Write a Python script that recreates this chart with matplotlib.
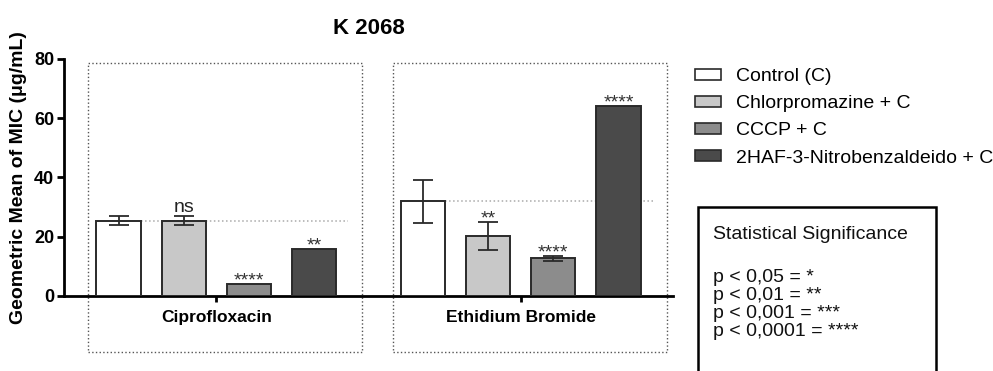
import matplotlib
matplotlib.use("Agg")
import matplotlib.pyplot as plt
from matplotlib.patches import Patch, Rectangle
import numpy as np

plt.rcParams['font.family'] = ['Liberation Sans', 'DejaVu Sans']

# data
groups = ["Ciprofloxacin", "Ethidium Bromide"]
treatments = ["Control (C)", "Chlorpromazine + C", "CCCP + C",
              "2HAF-3-Nitrobenzaldeido + C"]
cipro_mean = [25.4, 25.4, 4.0, 16.0]
cipro_err = [1.6, 1.6, 0.0, 0.0]
etbr_mean = [32.0, 20.2, 12.7, 64.0]
etbr_err = [7.3, 4.8, 0.8, 0.0]
cipro_sig = ["", "ns", "****", "**"]
etbr_sig = ["", "**", "****", "****"]
sig_legend = ["p < 0,05 = *", "p < 0,01 = **", "p < 0,001 = ***",
              "p < 0,0001 = ****"]

colors = ["#ffffff", "#c8c8c8", "#8c8c8c", "#4a4a4a"]
edge = "#2a2a2a"

fig = plt.figure(figsize=(9.93, 3.71), dpi=100)
ax = fig.add_axes([0.0645, 0.2022, 0.6132, 0.6388])

step = 0.214
width = 0.145
offsets = (np.arange(4) - 1.5) * step

for g, (means, errs, sigs) in enumerate([(cipro_mean, cipro_err, cipro_sig),
                                         (etbr_mean, etbr_err, etbr_sig)]):
    xs = g + offsets
    for i in range(4):
        ax.bar(xs[i], means[i], width, color=colors[i], edgecolor=edge,
               linewidth=1.4, zorder=3)
        if errs[i] > 0:
            ax.errorbar(xs[i], means[i], yerr=errs[i], fmt='none',
                        ecolor=edge, elinewidth=1.3, capsize=7.5,
                        capthick=1.3, zorder=4)
        top = means[i] + errs[i]
        if sigs[i] == "ns":
            ax.annotate(sigs[i], (xs[i], top), xytext=(0, 3),
                        textcoords='offset points', ha='center',
                        va='baseline', fontsize=14, color='#222222')
        elif sigs[i]:
            ax.annotate(sigs[i], (xs[i], top), xytext=(0, -1),
                        textcoords='offset points', ha='center',
                        va='baseline', fontsize=14, color='#333333')
    # dotted reference line at the control level
    ax.plot([g + offsets[0] + width / 2, g + 0.433], [means[0], means[0]],
            linestyle=':', color='#aaaaaa', linewidth=1.1, zorder=2)
    # dotted group frame
    ax.add_patch(Rectangle((g - 0.421, -18.9), 0.901, 97.6, fill=False,
                           linestyle=':', edgecolor='#555555', linewidth=1.0,
                           clip_on=False, zorder=1))

ax.set_xlim(-0.5, 1.5)
ax.set_ylim(0, 80)
ax.set_yticks([0, 20, 40, 60, 80])
ax.set_xticks([0, 1])
ax.set_xticklabels(groups, fontsize=12.5, fontweight='bold')
for lab in ax.get_yticklabels():
    lab.set_fontsize(13)
    lab.set_fontweight('bold')
ax.tick_params(axis='y', direction='out', length=5, width=2, pad=2)
ax.tick_params(axis='x', direction='out', length=4, width=2, pad=6)
ax.spines['top'].set_visible(False)
ax.spines['right'].set_visible(False)
ax.spines['left'].set_linewidth(2)
ax.spines['bottom'].set_linewidth(2)
ax.set_ylabel("Geometric Mean of MIC (μg/mL)", fontsize=14,
              fontweight='bold', labelpad=5)
ax.set_title("K 2068", fontsize=16, fontweight='bold', pad=18)

handles = [Patch(facecolor=c, edgecolor=edge, linewidth=1.2) for c in colors]
fig.legend(handles, treatments, loc='upper left',
           bbox_to_anchor=(0.700, 0.816), frameon=False, fontsize=14,
           handlelength=1.35, handleheight=0.5, handletextpad=0.75,
           labelspacing=0.52, borderpad=0, borderaxespad=0)

fig.patches.append(Rectangle((0.703, -0.1), 0.240, 0.542, fill=False,
                             edgecolor='black', linewidth=1.8,
                             transform=fig.transFigure, figure=fig))
fig.text(0.718, 0.367, "Statistical Significance", fontsize=14,
         va='center', color='#111111')
for k, line in enumerate(sig_legend):
    fig.text(0.718, 0.253 - k * 0.0485, line, fontsize=14, va='center',
             color='#111111')

fig.savefig("out.png", dpi=100)
